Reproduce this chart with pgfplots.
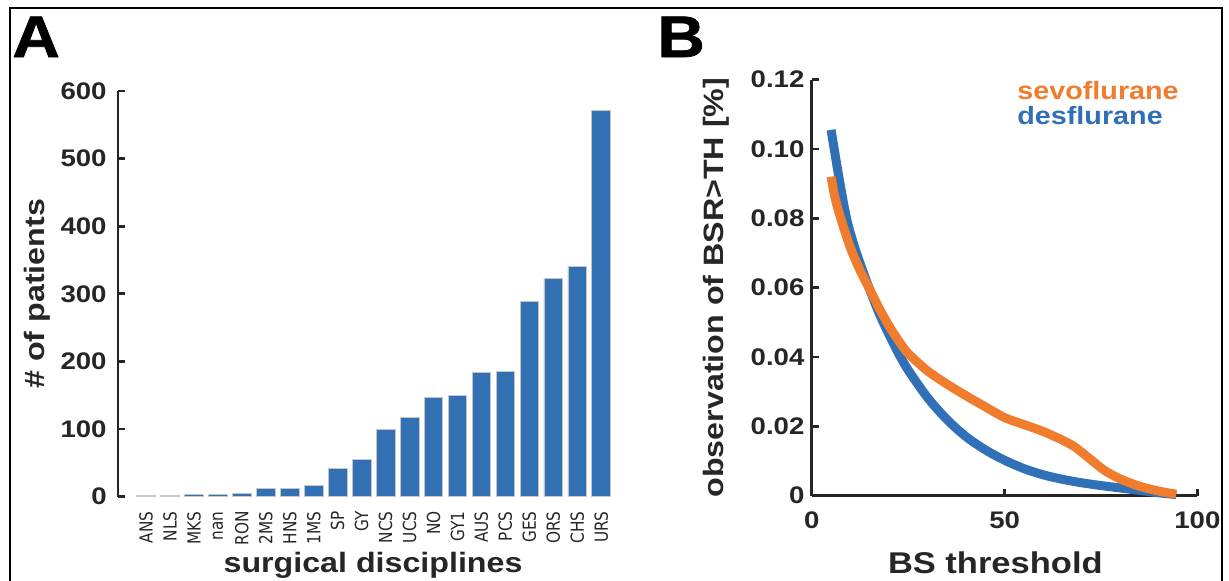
\documentclass[border=0pt]{standalone}
\usepackage{fontspec}
\setmainfont{Liberation Sans}[FakeStretch=1.15]
\newfontfamily\tickfont{DejaVu Sans}[FakeStretch=0.85]
\newfontfamily\letterfont{Liberation Sans}[FakeStretch=1.12, FakeBold=1.2]
\usepackage{pgfplots}
\pgfplotsset{compat=1.18}
\definecolor{axgray}{RGB}{38,38,38}
\definecolor{barblue}{RGB}{49,113,179}
\definecolor{lineblue}{RGB}{48,112,182}
\definecolor{lineorange}{RGB}{240,125,45}
\begin{document}
\begin{tikzpicture}
\begin{axis}[
  at={(59pt,41.75pt)}, anchor=south west,
  scale only axis, width=247.6pt, height=202.75pt,
  xmin=-1.17, xmax=19.5, ymin=0, ymax=600,
  axis y line*=left, axis x line*=bottom,
  x axis line style={draw=none},
  y axis line style={-, line width=1.35pt, color=axgray},
  ytick={0,100,200,300,400,500,600},
  xtick={0,1,2,3,4,5,6,7,8,9,10,11,12,13,14,15,16,17,18,19},
  xticklabels={ANS,NLS,MKS,nan,RON,2MS,HNS,1MS,SP,GY,NCS,UCS,NO,GY1,AUS,PCS,GES,ORS,CHS,URS},
  x tick style={draw=none},
  y tick style={line width=1.35pt, color=axgray},
  tick align=inside, major tick length=3.5pt,
  /pgf/number format/assume math mode=true,
  yticklabel style={font=\fontsize{12}{14}\selectfont\bfseries, text=axgray, inner sep=0pt},
  yticklabel shift=5.5pt,
  xticklabel style={font=\tickfont\fontsize{9}{10}\selectfont, text=axgray, rotate=90, anchor=east, inner sep=0pt},
  xticklabel shift=3.75pt,
  ylabel={\# of patients}, xlabel={surgical disciplines},
  ylabel style={at={(axis description cs:-0.1636,0.5)}, anchor=center, font=\fontsize{14}{16}\selectfont\bfseries, text=axgray},
  xlabel style={at={(axis description cs:0.515,-0.170)}, anchor=center, font=\fontsize{14}{16}\selectfont\bfseries, text=axgray},
  ybar, bar width=0.78,
]
\addplot[fill=barblue, draw=gray!45, line width=0.4pt] coordinates {
(0,1) (1,1) (2,3) (3,3) (4,4) (5,12) (6,12) (7,16) (8,42) (9,55)
(10,99) (11,117) (12,146) (13,149) (14,183) (15,185) (16,289) (17,322) (18,340) (19,571)};
\end{axis}

\begin{axis}[
  at={(405.9pt,42.2pt)}, anchor=south west,
  scale only axis, width=192.8pt, height=208pt,
  xmin=0, xmax=100, ymin=0, ymax=0.12,
  axis x line=bottom, axis y line=left,
  axis line style={-, line width=1.35pt, color=axgray},
  xtick={0,50,100},
  ytick={0,0.02,0.04,0.06,0.08,0.10,0.12},
  yticklabels={0,0.02,0.04,0.06,0.08,0.10,0.12},
  scaled y ticks=false,
  tick style={line width=1.35pt, color=axgray},
  tick align=inside, major tick length=3.5pt,
  /pgf/number format/assume math mode=true,
  yticklabel style={font=\fontsize{12}{14}\selectfont\bfseries, text=axgray, inner sep=0pt},
  yticklabel shift=3.5pt,
  xticklabel style={font=\fontsize{12}{14}\selectfont\bfseries, text=axgray, inner sep=0pt},
  xticklabel shift=7.7pt,
  ylabel={observation of BSR>TH [\%]}, xlabel={BS threshold},
  ylabel style={at={(axis description cs:-0.249,0.5)}, anchor=center, font=\fontsize{14}{16}\selectfont\bfseries, text=axgray},
  xlabel style={at={(axis description cs:0.476,-0.162)}, anchor=center, font=\fontsize{15}{17}\selectfont\bfseries, text=axgray},
  clip=false,
]
\addplot[lineblue, line width=4.5pt, smooth, tension=0.5] coordinates {
(5,0.1055) (7,0.092) (9,0.080) (11,0.072) (13,0.0655) (15,0.0595) (17.5,0.0525)
(20,0.0465) (22.5,0.041) (25,0.0362) (30,0.0283) (35,0.0220) (40,0.0170)
(45,0.0132) (50,0.0102) (55,0.0078) (60,0.0060) (65,0.0047) (70,0.0037)
(75,0.0029) (80,0.0022) (85,0.0015) (90,0.0008) (94.5,0.0003)};
\addplot[lineorange, line width=4.5pt, smooth, tension=0.5] coordinates {
(5,0.092) (6,0.086) (7.5,0.080) (10,0.0715) (12.5,0.065) (15,0.0595) (17.5,0.054)
(20,0.049) (22.5,0.0447) (25,0.041) (30,0.036) (35,0.0322) (40,0.0288)
(45,0.0256) (50,0.0225) (55,0.0205) (60,0.0185) (65,0.0160) (68,0.0142)
(70,0.0125) (73,0.0098) (76,0.0072) (80,0.0048) (85,0.0027) (90,0.0013) (94.5,0.0004)};
\node[anchor=base west, inner sep=0pt, text=lineorange, font=\fontsize{12.5}{14}\selectfont\bfseries] at (axis description cs:0.532,0.952) {sevoflurane};
\node[anchor=base west, inner sep=0pt, text=lineblue, font=\fontsize{12.5}{14}\selectfont\bfseries] at (axis description cs:0.532,0.893) {desflurane};
\end{axis}

\node[anchor=base west, inner sep=0pt, font=\letterfont\fontsize{29.3}{30}\selectfont\bfseries] at (6pt,261.5pt) {A};
\node[anchor=base west, inner sep=0pt, font=\letterfont\fontsize{29.3}{30}\selectfont\bfseries] at (328.5pt,261.5pt) {B};
\draw[line width=1.2pt, black] (5pt,-5pt) -- (5pt,286pt) -- (611pt,286pt) -- (611pt,-5pt);
\pgfresetboundingbox
\useasboundingbox (0,0) rectangle (614.5pt,290pt);
\end{tikzpicture}
\end{document}
